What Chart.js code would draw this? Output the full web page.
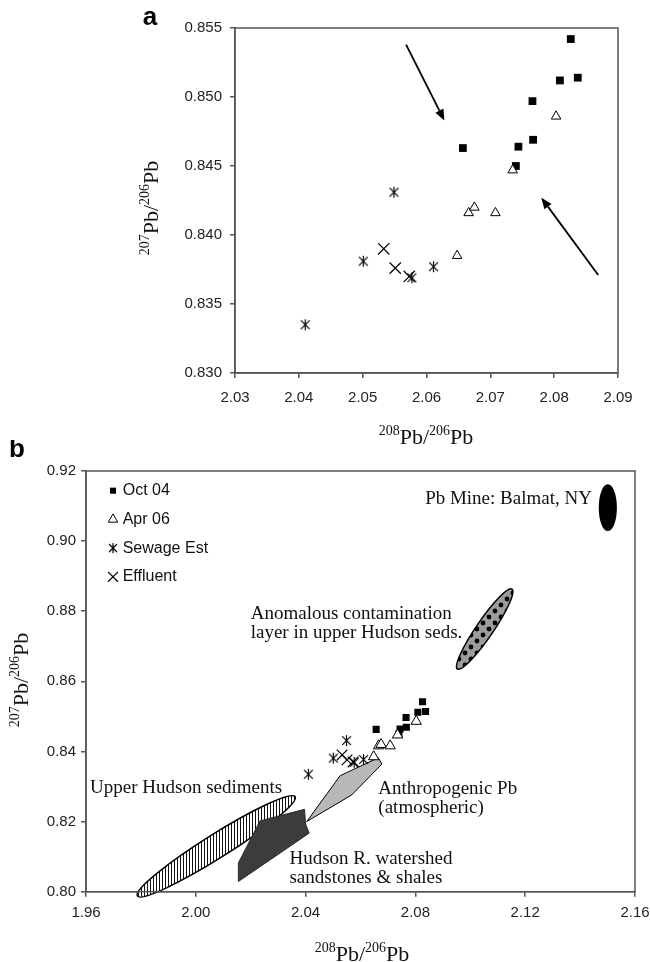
<!DOCTYPE html>
<html>
<head>
<meta charset="utf-8">
<script src="https://cdn.jsdelivr.net/npm/chart.js@4.4.1/dist/chart.umd.min.js"></script>
<style>
  html, body { margin: 0; padding: 0; background: #fff; }
  #wrapA { position: absolute; left: 0; top: 0; width: 650px; height: 450px; }
  #wrapB { position: absolute; left: 0; top: 440px; width: 650px; height: 522px; }
</style>
</head>
<body>
<div id="wrapA"><canvas id="chartA"></canvas></div>
<div id="wrapB"><canvas id="chartB"></canvas></div>
<script>
// values
const oct04X = [2.0826, 2.0837, 2.0809, 2.0766, 2.0767, 2.0744, 2.0740, 2.0657];
const oct04Y = [0.8542, 0.8514, 0.8512, 0.8497, 0.8469, 0.8464, 0.8450, 0.8463];
const apr06X = [2.0803, 2.0735, 2.0666, 2.0675, 2.0708, 2.0648];
const apr06Y = [0.8486, 0.8447, 0.8416, 0.8420, 0.8416, 0.8385];
const sewageX = [2.0410, 2.0501, 2.0549, 2.0611, 2.0577];
const sewageY = [0.8335, 0.8381, 0.8431, 0.8377, 0.8369];
const effluentX = [2.0533, 2.0551, 2.0573];
const effluentY = [0.8390, 0.8376, 0.8370];
const seriesNames = ['Oct 04', 'Apr 06', 'Sewage Est', 'Effluent'];

// tick labels
const aTicksX = ['2.03', '2.04', '2.05', '2.06', '2.07', '2.08', '2.09'];
const aTicksY = ['0.830', '0.835', '0.840', '0.845', '0.850', '0.855'];
const bTicksX = ['1.96', '2.00', '2.04', '2.08', '2.12', '2.16'];
const bTicksY = ['0.80', '0.82', '0.84', '0.86', '0.88', '0.90', '0.92'];

// axis titles (even index = superscript)
const xTitle = ['208', 'Pb/', '206', 'Pb'];
const yTitle = ['207', 'Pb/', '206', 'Pb'];

// panel a arrows (data coords)
const arrowFrom = [[2.0568, 0.8538], [2.0869, 0.8371]];
const arrowTo = [[2.0628, 0.8483], [2.0780, 0.8427]];

// panel b reference fields
const watershedX = [2.0155, 2.0155, 2.0234, 2.0396, 2.0400, 2.0413, 2.0155];
const watershedY = [0.8029, 0.8082, 0.8202, 0.8235, 0.8193, 0.8167, 0.8029];
const anthroX = [2.0404, 2.0526, 2.0665, 2.0678, 2.0568, 2.0404];
const anthroY = [0.8200, 0.8331, 0.8382, 0.8364, 0.8276, 0.8200];
// ellipses: the two ends of the long axis
const balmatEnds = [[2.1501, 0.9160], [2.1501, 0.9031]];
const anomalousEnds = [[2.0953, 0.8635], [2.1152, 0.8863]];
const upperHudsonEnds = [[1.9787, 0.7988], [2.0362, 0.8271]];

const noteText = ['Pb Mine: Balmat, NY', 'Anomalous contamination', 'layer in upper Hudson seds.',
  'Upper Hudson sediments', 'Anthropogenic Pb', '(atmospheric)', 'Hudson R. watershed', 'sandstones & shales'];
const noteX = [2.1443, 2.0200, 2.0200, 1.9615, 2.0665, 2.0665, 2.0341, 2.0341];
const noteY = [0.9120, 0.8792, 0.8737, 0.8295, 0.8292, 0.8238, 0.8094, 0.8040];

const pts = (xs, ys) => xs.map((x, i) => ({ x: x, y: ys[i] }));
const SANS = 'Liberation Sans, Arial, sans-serif';
const SERIF = 'Liberation Serif, Times New Roman, serif';
const AXIS = '#555';

function asterisk(size, lw) {
  const s = Math.ceil(size) + 2;
  const c = document.createElement('canvas');
  c.width = s; c.height = s;
  const g = c.getContext('2d');
  const m = s / 2, r = size / 2, d = r * 0.8;
  g.strokeStyle = '#000';
  g.lineWidth = lw;
  g.beginPath();
  g.moveTo(m - d, m - d); g.lineTo(m + d, m + d);
  g.moveTo(m + d, m - d); g.lineTo(m - d, m + d);
  g.moveTo(m, m - r); g.lineTo(m, m + r);
  g.stroke();
  return c;
}

function seriesSets(sq, tri, star, x) {
  return [
    { label: seriesNames[0], data: pts(oct04X, oct04Y), pointStyle: 'rect', pointRadius: sq,
      backgroundColor: '#000', borderColor: '#000', borderWidth: 0, order: 3 },
    { label: seriesNames[1], data: pts(apr06X, apr06Y), pointStyle: 'triangle', pointRadius: tri,
      backgroundColor: '#fff', borderColor: '#000', borderWidth: 1, order: 2 },
    { label: seriesNames[2], data: pts(sewageX, sewageY), pointStyle: asterisk(star, 1.2), pointRadius: 6,
      borderColor: '#000', order: 4 },
    { label: seriesNames[3], data: pts(effluentX, effluentY), pointStyle: 'crossRot', pointRadius: x,
      borderColor: '#000', borderWidth: 1.2, order: 1 }
  ];
}

function axis(ticks, dec, size, tickPad, fit) {
  return {
    type: 'linear',
    min: Number(ticks[0]), max: Number(ticks[ticks.length - 1]),
    afterBuildTicks: s => { s.ticks = ticks.map(v => ({ value: Number(v) })); },
    afterFit: fit,
    ticks: { callback: v => v.toFixed(dec), font: { family: SANS, size: size }, color: '#222', padding: tickPad },
    grid: { drawOnChartArea: false, tickLength: 5, color: AXIS, lineWidth: 1.5 },
    border: { color: AXIS, width: 1.5 }
  };
}

function isoTitle(ctx, parts, cx, cy, rotate) {
  const big = '22px ' + SERIF, small = '14px ' + SERIF;
  ctx.save();
  ctx.translate(cx, cy);
  if (rotate) ctx.rotate(-Math.PI / 2);
  let total = 0;
  parts.forEach((p, i) => { ctx.font = i % 2 ? big : small; total += ctx.measureText(p).width; });
  let x = -total / 2;
  ctx.fillStyle = '#111';
  ctx.textBaseline = 'alphabetic';
  parts.forEach((p, i) => {
    ctx.font = i % 2 ? big : small;
    ctx.fillText(p, x, i % 2 ? 7 : -2);
    x += ctx.measureText(p).width;
  });
  ctx.restore();
}

function frame(chart) {
  const { ctx, chartArea: a } = chart;
  ctx.save();
  ctx.strokeStyle = AXIS;
  ctx.lineWidth = 1.5;
  ctx.strokeRect(a.left, a.top, a.right - a.left, a.bottom - a.top);
  ctx.restore();
}

function panelLetter(ctx, t, x, y) {
  ctx.save();
  ctx.font = 'bold 26px ' + SANS;
  ctx.fillStyle = '#000';
  ctx.textAlign = 'center';
  ctx.textBaseline = 'middle';
  ctx.fillText(t, x, y);
  ctx.restore();
}

const panelA = {
  id: 'panelA',
  afterDraw(chart) {
    const { ctx, scales: { x, y } } = chart;
    frame(chart);
    ctx.save();
    ctx.strokeStyle = '#000';
    ctx.fillStyle = '#000';
    ctx.lineWidth = 1.8;
    arrowFrom.forEach((f, i) => {
      const x1 = x.getPixelForValue(f[0]), y1 = y.getPixelForValue(f[1]);
      const x2 = x.getPixelForValue(arrowTo[i][0]), y2 = y.getPixelForValue(arrowTo[i][1]);
      const ang = Math.atan2(y2 - y1, x2 - x1);
      const hl = 11, hw = 4.5;
      const bx = x2 - Math.cos(ang) * hl, by = y2 - Math.sin(ang) * hl;
      ctx.beginPath();
      ctx.moveTo(x1, y1);
      ctx.lineTo(bx, by);
      ctx.stroke();
      ctx.beginPath();
      ctx.moveTo(x2, y2);
      ctx.lineTo(bx - Math.sin(ang) * hw, by + Math.cos(ang) * hw);
      ctx.lineTo(bx + Math.sin(ang) * hw, by - Math.cos(ang) * hw);
      ctx.closePath();
      ctx.fill();
    });
    ctx.restore();
    isoTitle(ctx, yTitle, 151, 208, true);
    isoTitle(ctx, xTitle, 426, 437, false);
    panelLetter(ctx, 'a', 150, 18);
  }
};

new Chart(document.getElementById('chartA'), {
  type: 'scatter',
  data: { datasets: seriesSets(5.5, 5.5, 11, 8) },
  options: {
    responsive: true, maintainAspectRatio: false, animation: false,
    layout: { padding: { left: 0, top: 28, right: 32, bottom: 0 } },
    plugins: { legend: { display: false }, tooltip: { enabled: false } },
    scales: {
      x: axis(aTicksX, 2, 15, 11, s => { s.height = 450 - 373; s.paddingLeft = 0; s.paddingRight = 0; }),
      y: axis(aTicksY, 3, 15, 8, s => { s.width = 235; })
    }
  },
  plugins: [panelA]
});

// ---- panel b ----
function stripes() {
  const c = document.createElement('canvas');
  c.width = 3; c.height = 3;
  const g = c.getContext('2d');
  g.fillStyle = '#fff'; g.fillRect(0, 0, 3, 3);
  g.fillStyle = '#111'; g.fillRect(0, 0, 1, 3);
  return c;
}
function dots() {
  const c = document.createElement('canvas');
  c.width = 12; c.height = 12;
  const g = c.getContext('2d');
  g.fillStyle = '#9c9c9c'; g.fillRect(0, 0, 12, 12);
  g.fillStyle = '#000';
  g.beginPath(); g.arc(3, 3, 2.4, 0, Math.PI * 2); g.fill();
  g.beginPath(); g.arc(9, 9, 2.4, 0, Math.PI * 2); g.fill();
  return c;
}

function ellipse(chart, ends, half, fill) {
  const { ctx, scales: { x, y } } = chart;
  const x1 = x.getPixelForValue(ends[0][0]), y1 = y.getPixelForValue(ends[0][1]);
  const x2 = x.getPixelForValue(ends[1][0]), y2 = y.getPixelForValue(ends[1][1]);
  ctx.save();
  ctx.beginPath();
  ctx.ellipse((x1 + x2) / 2, (y1 + y2) / 2, Math.hypot(x2 - x1, y2 - y1) / 2, half,
    Math.atan2(y2 - y1, x2 - x1), 0, Math.PI * 2);
  ctx.fillStyle = fill;
  ctx.fill();
  ctx.strokeStyle = '#000';
  ctx.lineWidth = 1.5;
  ctx.stroke();
  ctx.restore();
}

const legendStyle = [
  { pointStyle: 'rect', radius: 4.3, fill: '#000', bw: 0 },
  { pointStyle: 'triangle', radius: 5.5, fill: '#fff', bw: 1 },
  { pointStyle: asterisk(10, 1.2), radius: 5, fill: '#000', bw: 1 },
  { pointStyle: 'crossRot', radius: 7, fill: '#000', bw: 1.2 }
];

const panelB = {
  id: 'panelB',
  beforeDatasetsDraw(chart) {
    const ctx = chart.ctx;
    ellipse(chart, upperHudsonEnds, 12, ctx.createPattern(stripes(), 'repeat'));
    ellipse(chart, anomalousEnds, 8.5, ctx.createPattern(dots(), 'repeat'));
    ellipse(chart, balmatEnds, 8.3, '#000');
  },
  afterDraw(chart) {
    const { ctx, scales: { x, y } } = chart;
    frame(chart);
    ctx.save();
    ctx.font = '19px ' + SERIF;
    ctx.fillStyle = '#111';
    ctx.textBaseline = 'middle';
    noteText.forEach((t, i) => {
      ctx.textAlign = i === 0 ? 'right' : 'left';
      ctx.fillText(t, x.getPixelForValue(noteX[i]), y.getPixelForValue(noteY[i]));
    });
    // legend
    ctx.font = '16px ' + SANS;
    ctx.textAlign = 'left';
    seriesNames.forEach((n, i) => {
      const ly = 31 + 19.7 + i * 28.7;
      const st = legendStyle[i];
      ctx.fillStyle = st.fill;
      ctx.strokeStyle = '#000';
      ctx.lineWidth = st.bw;
      Chart.helpers.drawPoint(ctx, { pointStyle: st.pointStyle, radius: st.radius, rotation: 0, borderWidth: st.bw }, 113, ly);
      ctx.fillStyle = '#111';
      ctx.fillText(n, 122.7, ly);
    });
    ctx.restore();
    isoTitle(ctx, yTitle, 21, 240, true);
    isoTitle(ctx, xTitle, 362, 514, false);
    panelLetter(ctx, 'b', 17, 10);
  }
};

const fieldSets = [
  { type: 'line', data: pts(watershedX, watershedY), fill: 'shape', backgroundColor: '#3c3c3c',
    borderColor: '#2a2a2a', borderWidth: 1, pointRadius: 0, tension: 0, order: 10 },
  { type: 'line', data: pts(anthroX, anthroY), fill: 'shape', backgroundColor: '#b8b8b8',
    borderColor: '#000', borderWidth: 1, pointRadius: 0, tension: 0, order: 9 }
];

new Chart(document.getElementById('chartB'), {
  type: 'scatter',
  data: { datasets: fieldSets.concat(seriesSets(5, 6, 11, 7.5)) },
  options: {
    responsive: true, maintainAspectRatio: false, animation: false,
    layout: { padding: { left: 0, top: 31, right: 15, bottom: 0 } },
    plugins: { legend: { display: false }, tooltip: { enabled: false } },
    scales: {
      x: axis(bTicksX, 2, 15, 7, s => { s.height = 522 - 451.7; s.paddingLeft = 0; s.paddingRight = 0; }),
      y: axis(bTicksY, 2, 15, 5, s => { s.width = 86; })
    }
  },
  plugins: [panelB]
});
</script>
</body>
</html>
